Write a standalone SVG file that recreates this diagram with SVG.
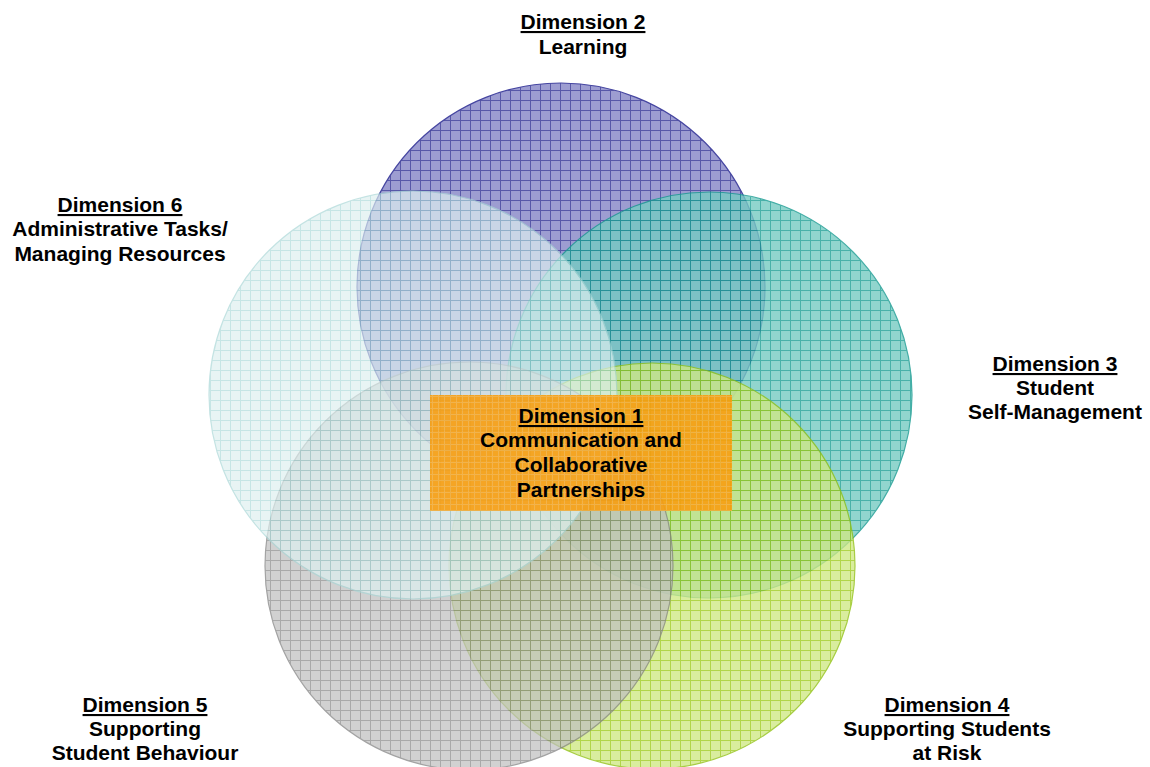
<svg xmlns="http://www.w3.org/2000/svg" width="1150" height="767" viewBox="0 0 1150 767">
<defs>
<pattern id="pPurple" width="10" height="10" patternUnits="userSpaceOnUse">
<rect width="10" height="10" fill="#9898cf"/>
<path d="M0 0.5H10M0.5 0V10" stroke="#5050a4" stroke-width="1"/>
</pattern>
<pattern id="pTeal" width="10" height="10" patternUnits="userSpaceOnUse">
<rect width="10" height="10" fill="#76cbc3"/>
<path d="M0 0.5H10M0.5 0V10" stroke="#1c9e94" stroke-width="1"/>
</pattern>
<pattern id="pGreen" width="10" height="10" patternUnits="userSpaceOnUse">
<rect width="10" height="10" fill="#cfe884"/>
<path d="M0 0.5H10M0.5 0V10" stroke="#9cca18" stroke-width="1"/>
</pattern>
<pattern id="pGrey" width="10" height="10" patternUnits="userSpaceOnUse">
<rect width="10" height="10" fill="#c0c0c0"/>
<path d="M0 0.5H10M0.5 0V10" stroke="#888888" stroke-width="1"/>
</pattern>
<pattern id="pLight" width="10" height="10" patternUnits="userSpaceOnUse">
<rect width="10" height="10" fill="#def0f0"/>
<path d="M0 0.5H10M0.5 0V10" stroke="#acd9d9" stroke-width="1"/>
</pattern>
<pattern id="pOrange" width="6" height="6" patternUnits="userSpaceOnUse">
<rect width="6" height="6" fill="#f89e10"/>
<path d="M0 0.5H6M0.5 0V6" stroke="#f5ae3c" stroke-width="1"/>
</pattern>
</defs>
<style>
.c{stroke-width:1.2;}
.t{font-family:"Liberation Sans",Arial,sans-serif;font-weight:bold;font-size:21px;fill:#000;text-anchor:middle;}
.u{text-decoration:underline;}
</style>
<rect width="1150" height="767" fill="#fff"/>
<g id="circle2"><circle class="c" cx="561" cy="287" r="204" fill="url(#pPurple)" stroke="#3c3c9c" opacity="0.95"/></g>
<g id="circle3"><circle class="c" cx="709" cy="395" r="203" fill="url(#pTeal)" stroke="#159a90" opacity="0.8"/></g>
<g id="circle4"><circle class="c" cx="652" cy="566" r="203" fill="url(#pGreen)" stroke="#8fc010" opacity="0.78"/></g>
<g id="circle5"><circle class="c" cx="469" cy="566" r="204" fill="url(#pGrey)" stroke="#808080" opacity="0.72"/></g>
<g id="circle6"><circle class="c" cx="413" cy="395" r="204" fill="url(#pLight)" stroke="#a8d6d6" opacity="0.68"/></g>
<g id="box1"><rect x="430" y="395" width="302" height="116" fill="url(#pOrange)" opacity="0.9"/></g>
<g id="label1">
<text class="t u" x="581" y="423">Dimension 1</text>
<text class="t" x="581" y="447">Communication and</text>
<text class="t" x="581" y="472">Collaborative</text>
<text class="t" x="581" y="497">Partnerships</text>
</g>
<g id="label2">
<text class="t u" x="583" y="29">Dimension 2</text>
<text class="t" x="583" y="54">Learning</text>
</g>
<g id="label3">
<text class="t u" x="1055" y="371">Dimension 3</text>
<text class="t" x="1055" y="395">Student</text>
<text class="t" x="1055" y="419">Self-Management</text>
</g>
<g id="label4">
<text class="t u" x="947" y="712">Dimension 4</text>
<text class="t" x="947" y="736">Supporting Students</text>
<text class="t" x="947" y="760">at Risk</text>
</g>
<g id="label5">
<text class="t u" x="145" y="712">Dimension 5</text>
<text class="t" x="145" y="736">Supporting</text>
<text class="t" x="145" y="760">Student Behaviour</text>
</g>
<g id="label6">
<text class="t u" x="120" y="212">Dimension 6</text>
<text class="t" x="120" y="236">Administrative Tasks/</text>
<text class="t" x="120" y="261">Managing Resources</text>
</g>
</svg>
